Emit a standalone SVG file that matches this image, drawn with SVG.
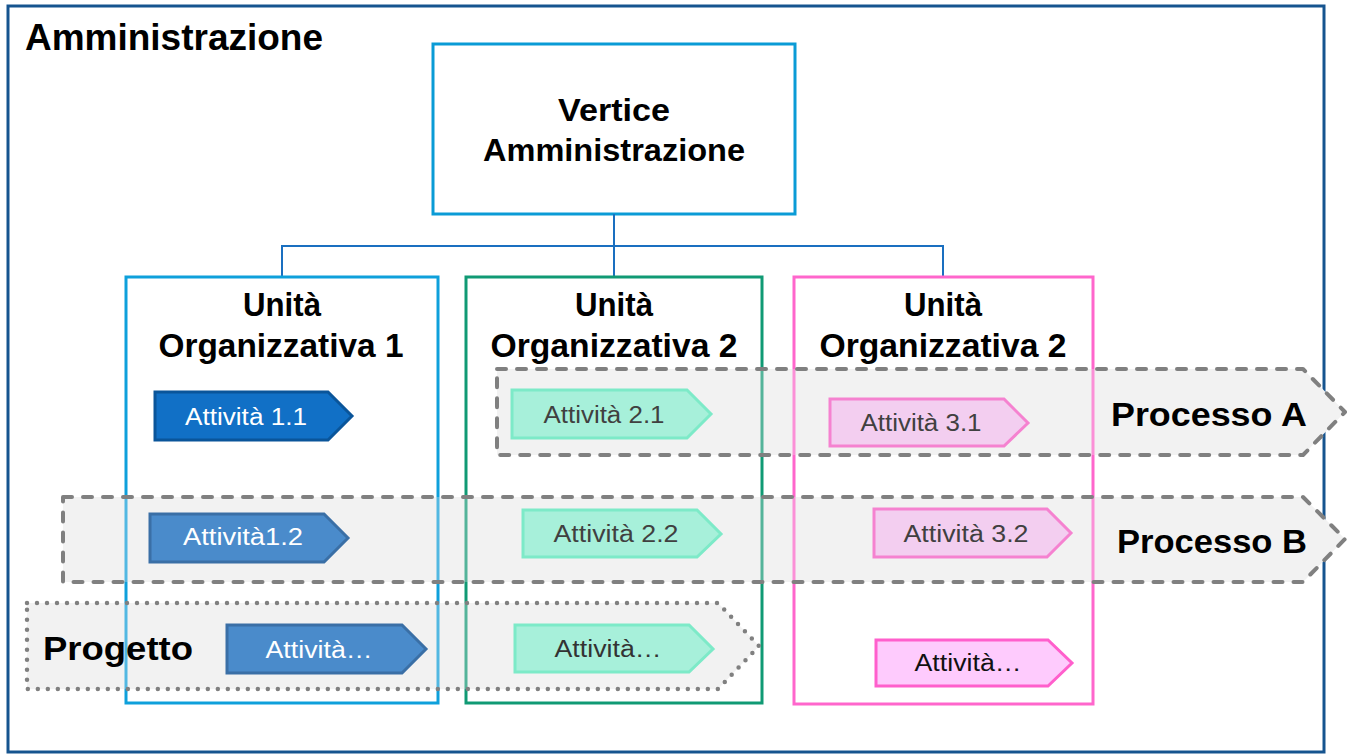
<svg xmlns="http://www.w3.org/2000/svg" width="1348" height="755" viewBox="0 0 1348 755">
<defs>
<style>
.bold{font-family:"Liberation Sans",Arial,sans-serif;font-weight:bold;fill:#000;}
.act{font-family:"Liberation Sans",Arial,sans-serif;font-size:23px;}
.unit{fill:none;stroke-width:3;}
.bandbase{fill:#f2f2f2;stroke:none;}
.dash{fill:#f2f2f2;fill-opacity:0.3;stroke:#808080;stroke-width:4;stroke-dasharray:9 11;stroke-linecap:round;stroke-linejoin:round;}
.dot{fill:#f2f2f2;fill-opacity:0.3;stroke:#808080;stroke-width:4.5;stroke-dasharray:0 10;stroke-linecap:round;stroke-linejoin:round;}
.conn{fill:none;stroke:#1a6fc0;stroke-width:2;}
.a1{fill:#1170c6;stroke:#0a559a;stroke-width:3;}
.a2{fill:#4a8bcb;stroke:#3a6fa6;stroke-width:3;}
.g{fill:#a7f0da;stroke:#7deac8;stroke-width:3;}
.p{fill:#f3cef0;stroke:#f582d0;stroke-width:3;}
.p2{fill:#fecbfd;stroke:#ff5fcc;stroke-width:3;}
.wt{fill:#ffffff;}
.dt{fill:#404040;}
</style>
</defs>
<rect x="0" y="0" width="1348" height="755" fill="#ffffff"/>
<g id="amministrazione">
<rect x="8" y="6" width="1316" height="746" fill="none" stroke="#16548f" stroke-width="3"/>
<text class="bold" x="25" y="50" font-size="36" textLength="298" lengthAdjust="spacingAndGlyphs">Amministrazione</text>
</g>
<g id="band-bases">
<path class="bandbase" d="M497,369 H1303 L1345,412 L1303,455 H497 Z"/>
<path class="bandbase" d="M63,497 H1303 L1345,539 L1303,582 H63 Z"/>
<path class="bandbase" d="M27,603 H718 L759,646 L718,689 H27 Z"/>
</g>
<g id="vertice">
<rect x="433" y="44" width="362" height="170" fill="#ffffff" stroke="#0a9bd6" stroke-width="3"/>
<text class="bold" x="614" y="121" font-size="32" text-anchor="middle" textLength="112" lengthAdjust="spacingAndGlyphs">Vertice</text>
<text class="bold" x="614" y="161" font-size="32" text-anchor="middle" textLength="262" lengthAdjust="spacingAndGlyphs">Amministrazione</text>
</g>
<g id="connectors">
<path class="conn" d="M614,214 V277"/>
<path class="conn" d="M282,277 V246 H943 V277"/>
</g>
<g id="unita1">
<rect class="unit" x="126" y="277" width="312" height="426" stroke="#0ea0db"/>
<text class="bold" x="282" y="316" font-size="33" text-anchor="middle" textLength="78" lengthAdjust="spacingAndGlyphs">Unità</text>
<text class="bold" x="281" y="357" font-size="33" text-anchor="middle" textLength="245" lengthAdjust="spacingAndGlyphs">Organizzativa 1</text>
</g>
<g id="unita2">
<rect class="unit" x="466" y="277" width="296" height="426" stroke="#109a74"/>
<text class="bold" x="614" y="316" font-size="33" text-anchor="middle" textLength="78" lengthAdjust="spacingAndGlyphs">Unità</text>
<text class="bold" x="614" y="357" font-size="33" text-anchor="middle" textLength="247" lengthAdjust="spacingAndGlyphs">Organizzativa 2</text>
</g>
<g id="unita3">
<rect class="unit" x="794" y="277" width="299" height="427" stroke="#ff66cc"/>
<text class="bold" x="943" y="316" font-size="33" text-anchor="middle" textLength="78" lengthAdjust="spacingAndGlyphs">Unità</text>
<text class="bold" x="943" y="357" font-size="33" text-anchor="middle" textLength="247" lengthAdjust="spacingAndGlyphs">Organizzativa 2</text>
</g>
<g id="processo-a">
<path class="dash" d="M497,369 H1303 L1345,412 L1303,455 H497 Z"/>
<text class="bold" x="1111" y="426" font-size="34" textLength="196" lengthAdjust="spacingAndGlyphs">Processo A</text>
</g>
<g id="processo-b">
<path class="dash" d="M63,497 H1303 L1345,539 L1303,582 H63 Z"/>
<text class="bold" x="1117" y="553" font-size="34" textLength="190" lengthAdjust="spacingAndGlyphs">Processo B</text>
</g>
<g id="progetto">
<path class="dot" d="M27,603 H718 L759,646 L718,689 H27 Z"/>
<text class="bold" x="43" y="660" font-size="34" textLength="150" lengthAdjust="spacingAndGlyphs">Progetto</text>
</g>
<g id="attivita-1-1">
<path class="a1" d="M155,392 H328 L352,416 L328,440 H155 Z"/>
<text class="act wt" x="246" y="425" text-anchor="middle" textLength="122" lengthAdjust="spacingAndGlyphs">Attività 1.1</text>
</g>
<g id="attivita-1-2">
<path class="a2" d="M150,514 H324 L348,538 L324,562 H150 Z"/>
<text class="act wt" x="243" y="545" text-anchor="middle" textLength="120" lengthAdjust="spacingAndGlyphs">Attività1.2</text>
</g>
<g id="attivita-1-3">
<path class="a2" d="M227,625 H402 L426,649 L402,673 H227 Z"/>
<text class="act wt" x="319" y="658" text-anchor="middle" textLength="107" lengthAdjust="spacingAndGlyphs">Attività…</text>
</g>
<g id="attivita-2-1">
<path class="g" d="M512,390 H687 L711,414 L687,438 H512 Z"/>
<text class="act dt" x="604" y="423" text-anchor="middle" textLength="121" lengthAdjust="spacingAndGlyphs">Attività 2.1</text>
</g>
<g id="attivita-2-2">
<path class="g" d="M523,510 H697 L721,534 L697,557 H523 Z"/>
<text class="act dt" x="616" y="542" text-anchor="middle" textLength="125" lengthAdjust="spacingAndGlyphs">Attività 2.2</text>
</g>
<g id="attivita-2-3">
<path class="g" d="M515,625 H689 L713,649 L689,672 H515 Z"/>
<text class="act" fill="#333333" x="608" y="657" text-anchor="middle" textLength="107" lengthAdjust="spacingAndGlyphs">Attività…</text>
</g>
<g id="attivita-3-1">
<path class="p" d="M830,399 H1004 L1028,423 L1004,446 H830 Z"/>
<text class="act dt" x="921" y="431" text-anchor="middle" textLength="121" lengthAdjust="spacingAndGlyphs">Attività 3.1</text>
</g>
<g id="attivita-3-2">
<path class="p" d="M874,509 H1047 L1071,533 L1047,557 H874 Z"/>
<text class="act dt" x="966" y="542" text-anchor="middle" textLength="125" lengthAdjust="spacingAndGlyphs">Attività 3.2</text>
</g>
<g id="attivita-3-3">
<path class="p2" d="M876,640 H1048 L1072,663 L1048,686 H876 Z"/>
<text class="act" fill="#111111" x="968" y="671" text-anchor="middle" textLength="107" lengthAdjust="spacingAndGlyphs">Attività…</text>
</g>
</svg>
